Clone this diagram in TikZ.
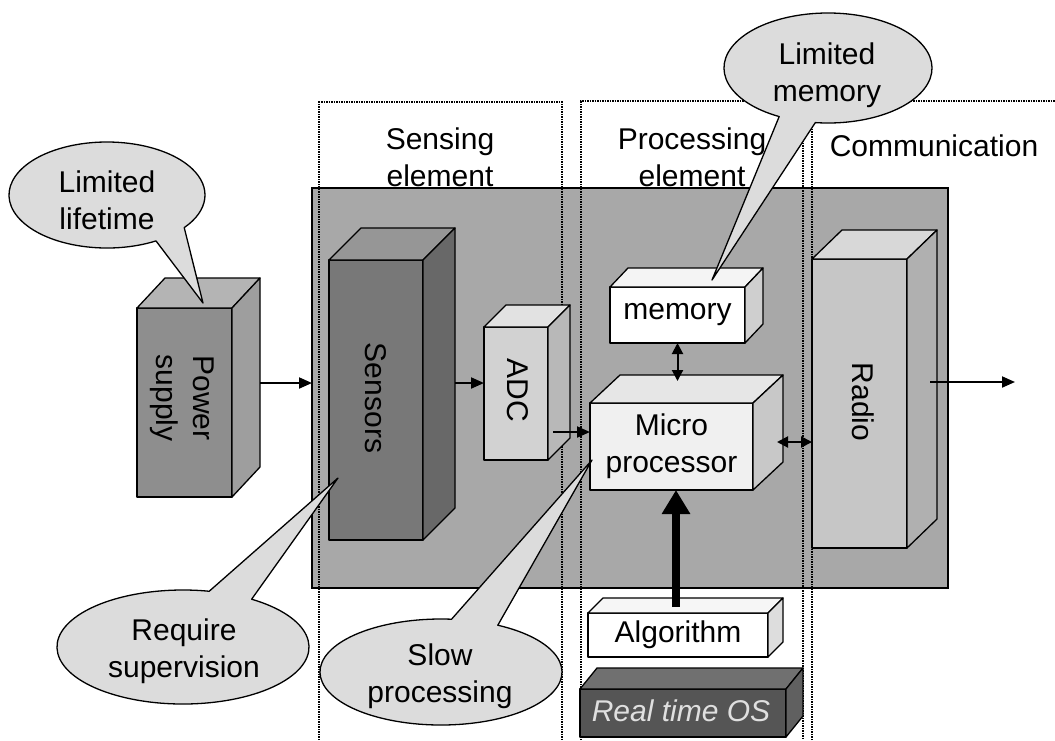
\documentclass[tikz,border=0pt]{standalone}
\usepackage{fontspec}
\setmainfont{Liberation Sans}
\usetikzlibrary{arrows.meta,calc,shapes.geometric}
\definecolor{panel}{HTML}{A8A8A8}
\definecolor{callgray}{HTML}{DCDCDC}
\newcommand\cubefaces[5]{%
  \filldraw[face, fill=#5] (#1.north west) -- ++(#2,#3) -- ($(#1.north east)+(#2,#3)$) -- (#1.north east) -- cycle;
  \filldraw[face, fill=#4] (#1.north east) -- ++(#2,#3) -- ($(#1.south east)+(#2,#3)$) -- (#1.south east) -- cycle;
}
\newcommand\calloutshape[7]{%
  \filldraw[callout] ($(#1,#2)+(#5:#3 and #4)$) arc[start angle=#5, end angle=#6, x radius=#3, y radius=#4] -- #7 -- cycle;
}
\begin{document}
\begin{tikzpicture}[x=1pt,y=-1pt,
  txt/.style={font=\fontsize{30}{37}\selectfont, align=center, inner sep=0pt},
  face/.style={draw=black, line width=1.3pt, line join=round},
  blk/.style={face, rectangle, inner sep=0pt, outer sep=0pt},
  frame/.style={densely dotted, line width=1.5pt},
  arr/.style={line width=2pt, -{Triangle[length=13pt,width=11pt]}},
  darr/.style={line width=2pt, {Triangle[length=11pt,width=11pt]}-{Triangle[length=11pt,width=11pt]}},
  bigarr/.style={line width=8pt, -{Triangle[length=24pt,width=27pt]}},
  callout/.style={fill=callgray, draw=black, line width=1.3pt, line join=round},
]
\useasboundingbox (0,0) rectangle (1055,740);
\fill[white] (0,0) rectangle (1055,740);

% main panel
\node[draw, line width=1.6pt, fill=panel, minimum width=636pt, minimum height=400pt, inner sep=0pt, outer sep=0pt] (unit) at (630,388) {};

% dotted frames
\draw[frame] (319,740) -- (319,102) -- (562,102) -- (562,740);
\draw[frame] (581,740) -- (581,101) -- (803,101) -- (803,740);
\draw[frame] (812,740) -- (812,101) -- (1055,101);

% section labels
\node[txt] (sensl) at (440,157) {Sensing\\element};
\node[txt] (procl) at (692,157) {Processing\\element};
\node[txt] (comml) at (934,146) {Communication};

% blocks
\node[blk, fill={rgb,255:red,142;green,142;blue,142}, minimum width=95pt, minimum height=189pt] (power) at (184.5,402.5) {};
\cubefaces{power}{28}{-30}{{rgb,255:red,158;green,158;blue,158}}{{rgb,255:red,180;green,180;blue,180}}
\node[txt, rotate=-90] (powert) at (182,398) {Power\\supply};

\node[blk, fill={rgb,255:red,120;green,120;blue,120}, minimum width=94pt, minimum height=280pt] (sens) at (376,400) {};
\cubefaces{sens}{32}{-32}{{rgb,255:red,104;green,104;blue,104}}{{rgb,255:red,150;green,150;blue,150}}
\node[txt, rotate=-90] (senst) at (376,398) {Sensors};

\node[blk, fill={rgb,255:red,210;green,210;blue,210}, minimum width=64pt, minimum height=133pt] (adc) at (516,393.5) {};
\cubefaces{adc}{22}{-22}{{rgb,255:red,184;green,184;blue,184}}{{rgb,255:red,226;green,226;blue,226}}
\node[txt, rotate=-90] (adct) at (518,390) {ADC};

\node[blk, fill=white, minimum width=135pt, minimum height=56pt] (memory) at (677.5,315) {};
\cubefaces{memory}{18}{-19}{{rgb,255:red,207;green,207;blue,207}}{{rgb,255:red,244;green,244;blue,244}}
\node[txt] (memt) at (677.5,315) {memory};

\node[blk, fill={rgb,255:red,240;green,240;blue,240}, minimum width=163pt, minimum height=87pt] (micro) at (671.5,446.5) {};
\cubefaces{micro}{30}{-28}{{rgb,255:red,200;green,200;blue,200}}{{rgb,255:red,230;green,230;blue,230}}
\node[txt] (microt) at (671.5,446.5) {Micro\\processor};

\node[blk, fill={rgb,255:red,198;green,198;blue,198}, minimum width=95pt, minimum height=289pt] (radio) at (859.5,403.5) {};
\cubefaces{radio}{30}{-29}{{rgb,255:red,176;green,176;blue,176}}{{rgb,255:red,216;green,216;blue,216}}
\node[txt, rotate=-90] (radiot) at (863,402) {Radio};

\node[blk, fill=white, minimum width=180pt, minimum height=44pt] (algo) at (678,635) {};
\cubefaces{algo}{15}{-15}{{rgb,255:red,221;green,221;blue,221}}{{rgb,255:red,246;green,246;blue,246}}
\node[txt] (algot) at (678,635) {Algorithm};

\node[blk, fill={rgb,255:red,85;green,85;blue,85}, minimum width=206pt, minimum height=48pt] (rtos) at (683,713) {};
\cubefaces{rtos}{17}{-21}{{rgb,255:red,96;green,96;blue,96}}{{rgb,255:red,112;green,112;blue,112}}
\node[txt, text=gray!25, font=\fontsize{30}{37}\selectfont\itshape] (rtost) at (681,711) {Real time OS};

% connectors
\coordinate (pwout) at ([shift={(28,-19.5)}]power.east);
\draw[arr] (pwout) -- (pwout -| unit.west);
\coordinate (snout) at ([shift={(32,-17)}]sens.east);
\draw[arr] (snout) -- (snout -| adc.west);
\coordinate (adout) at ([shift={(5,38.5)}]adc.east);
\draw[arr] (adout) -- (adout -| micro.west);
\coordinate (mtop) at ([shift={(0,-22)}]micro.north);
\draw[darr] (memory.south) -- (memory.south |- mtop);
\coordinate (mside) at ([shift={(24,-4.5)}]micro.east);
\draw[darr] (mside) -- (mside -| radio.west);
\coordinate (rout) at ([shift={(23,-21.5)}]radio.east);
\coordinate (sink) at (1015,382);
\draw[arr] (rout) -- (sink);
\coordinate (alin) at ([shift={(-2,-6)}]algo.north);
\draw[bigarr] (alin) -- (alin |- micro.south);

% callouts
\coordinate (tip1) at ([shift={(18.5,-5)}]power.north);
\calloutshape{107}{195}{98}{53}{60}{398}{(tip1)}
\node[txt] (c1) at (107,200) {Limited\\lifetime};

\coordinate (tip2) at ([shift={(34.5,-7)}]memory.north);
\calloutshape{828}{68}{104}{55}{118}{457}{(tip2)}
\node[txt] (c2) at (827,75) {Limited\\memory};

\coordinate (tip3) at ([shift={(9,-62)}]sens.south west);
\calloutshape{183}{647}{126}{57}{303}{642}{(tip3)}
\node[txt] (c3) at (184,651) {Require\\supervision};

\coordinate (tip4) at ([shift={(2,13.5)}]micro.west);
\calloutshape{441}{672}{121}{53}{298}{635}{(tip4)}
\node[txt] (c4) at (440,676) {Slow\\processing};
\end{tikzpicture}
\end{document}
